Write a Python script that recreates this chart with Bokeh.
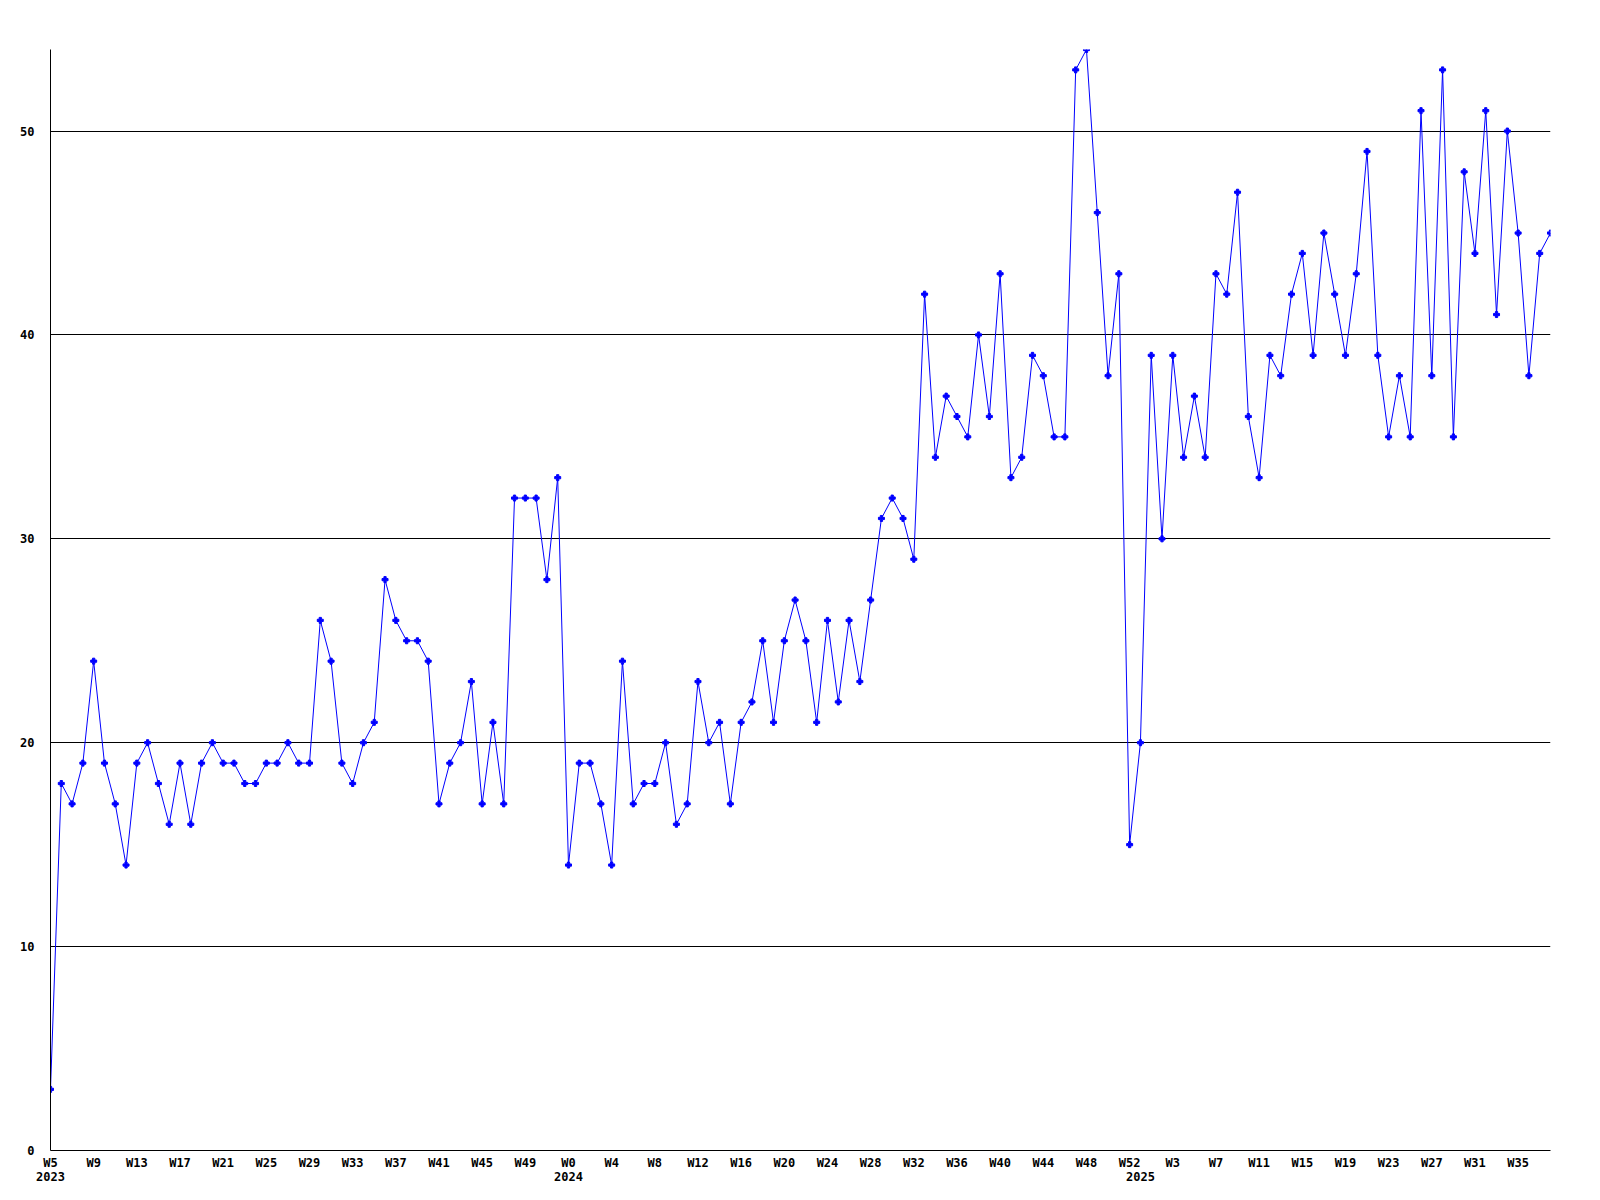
from bokeh.plotting import figure
from bokeh.models import Range1d, FixedTicker, LinearAxis, ColumnDataSource
from bokeh.embed import file_html
from bokeh.resources import INLINE

# ---- data ----
years = [2023, 2024, 2025]
year_weeks = [list(range(5, 53)), list(range(0, 53)), list(range(0, 39))]

values_2023 = [3, 18, 17, 19, 24, 19, 17, 14, 19, 20, 18, 16, 19, 16, 19, 20,
               19, 19, 18, 18, 19, 19, 20, 19, 19, 26, 24, 19, 18, 20, 21, 28,
               26, 25, 25, 24, 17, 19, 20, 23, 17, 21, 17, 32, 32, 32, 28, 33]
values_2024 = [14, 19, 19, 17, 14, 24, 17, 18, 18, 20, 16, 17, 23, 20, 21, 17,
               21, 22, 25, 21, 25, 27, 25, 21, 26, 22, 26, 23, 27, 31, 32, 31,
               29, 42, 34, 37, 36, 35, 40, 36, 43, 33, 34, 39, 38, 35, 35, 53,
               54, 46, 38, 43, 15]
values_2025 = [20, 39, 30, 39, 34, 37, 34, 43, 42, 47, 36, 33, 39, 38, 42, 44,
               39, 45, 42, 39, 43, 49, 39, 35, 38, 35, 51, 38, 53, 35, 48, 44,
               51, 41, 50, 45, 38, 44, 45]
y_ticks = [0, 10, 20, 30, 40, 50]
y_max = 54

# ---- assemble ----
values = values_2023 + values_2024 + values_2025
week_labels = []
year_start = {}
for yr, wks in zip(years, year_weeks):
    year_start[len(week_labels)] = str(yr)
    week_labels += ["W%d" % w for w in wks]
idx = list(range(len(values)))
tick_idx = idx[::4]

src = ColumnDataSource(data=dict(x=idx, y=values))

FONT = "DejaVu Sans Mono"

p = figure(frame_width=1500, frame_height=1101,
           x_range=Range1d(0, len(values) - 1), y_range=Range1d(0, y_max),
           output_backend="svg", toolbar_location=None,
           min_border_left=50, min_border_right=34,
           min_border_top=49, min_border_bottom=30,
           background_fill_color="white", border_fill_color="white")
p.outline_line_color = None

p.xgrid.visible = False
p.ygrid.ticker = FixedTicker(ticks=y_ticks[1:])
p.ygrid.grid_line_color = "black"
p.ygrid.grid_line_width = 1

# y axis
ya = p.yaxis[0]
ya.ticker = FixedTicker(ticks=y_ticks)
ya.axis_line_color = "black"
ya.major_tick_out = 0
ya.major_tick_in = 0
ya.minor_tick_out = 0
ya.minor_tick_in = 0
ya.major_label_standoff = 16
ya.major_label_text_font = FONT
ya.major_label_text_font_style = "bold"
ya.major_label_text_font_size = "12px"
ya.major_label_text_color = "black"

# x axis (weeks)
xa = p.xaxis[0]
xa.ticker = FixedTicker(ticks=tick_idx)
xa.major_label_overrides = {i: week_labels[i] for i in tick_idx}
xa.axis_line_color = "black"
xa.major_tick_out = 0
xa.major_tick_in = 0
xa.minor_tick_out = 0
xa.minor_tick_in = 0
xa.major_label_standoff = 5
xa.major_label_text_font = FONT
xa.major_label_text_font_style = "bold"
xa.major_label_text_font_size = "12px"
xa.major_label_text_color = "black"

# second axis (years)
yr_axis = LinearAxis(ticker=FixedTicker(ticks=list(year_start.keys())),
                     major_label_overrides=year_start)
yr_axis.axis_line_color = None
yr_axis.major_tick_out = 0
yr_axis.major_tick_in = 0
yr_axis.minor_tick_out = 0
yr_axis.minor_tick_in = 0
yr_axis.major_label_standoff = -1
yr_axis.major_label_text_font = FONT
yr_axis.major_label_text_font_style = "bold"
yr_axis.major_label_text_font_size = "12px"
yr_axis.major_label_text_color = "black"
p.add_layout(yr_axis, "below")

p.line("x", "y", source=src, line_color="#0000ff", line_width=1)
p.scatter("x", "y", source=src, marker="plus", size=6, color="#0000ff")

open("out.html", "w").write(file_html(p, INLINE))
